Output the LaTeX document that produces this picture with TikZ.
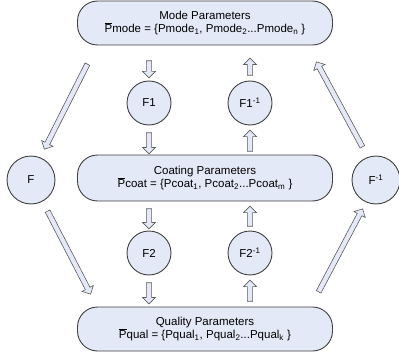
\documentclass[tikz,border=0pt]{standalone}
\usepackage{fontspec}
\setmainfont{Liberation Sans}
\usetikzlibrary{shapes.arrows,calc}

\definecolor{paleblue}{HTML}{E3E9F6}
\definecolor{edgegray}{HTML}{404040}

\tikzset{
  parambox/.style={draw=edgegray, fill=paleblue, line width=0.9pt, rounded corners=20pt,
    minimum width=255pt, minimum height=44pt, align=center,
    font=\fontsize{11.5}{13}\selectfont},
  funcnode/.style={draw=edgegray, fill=paleblue, line width=0.9pt, circle, inner sep=0pt,
    minimum size=44pt, font=\fontsize{11.5}{13}\selectfont},
  hollow/.style={single arrow, draw=edgegray!85, fill=paleblue, line width=0.6pt,
    inner xsep=0pt, inner ysep=2.3pt, single arrow head extend=3.8pt,
    single arrow head indent=0pt}
}

% hollow block arrow from #2 to #3
\newcommand{\hollowarrow}[3][]{%
  \path let \p1=($(#3)-(#2)$), \n1={veclen(\x1,\y1)}, \n2={atan2(\y1,\x1)} in
    node[hollow, minimum height=\n1, rotate=\n2, #1] at ($(#2)!0.5!(#3)$) {};}

\begin{document}
\begin{tikzpicture}[x=1pt,y=-1pt]
\useasboundingbox (0,0) rectangle (399,353);

% parameter boxes
\node[parambox] (mode) at (205,23) {Mode Parameters\\$\overline{\mbox{P}}$mode = \{Pmode\textsubscript{1}, Pmode\textsubscript{2}...Pmode\textsubscript{n} \}};
\node[parambox, minimum height=46pt] (coat) at (205,178) {Coating Parameters\\$\overline{\mbox{P}}$coat = \{Pcoat\textsubscript{1}, Pcoat\textsubscript{2}...Pcoat\textsubscript{m} \}};
\node[parambox] (qual) at (205,329) {Quality Parameters\\$\overline{\mbox{P}}$qual = \{Pqual\textsubscript{1}, Pqual\textsubscript{2}...Pqual\textsubscript{k} \}};

% functions
\node[funcnode] (f1) at (149,103) {F1};
\node[funcnode] (f1inv) at (250,103) {F1\textsuperscript{-1}};
\node[funcnode] (f2) at (149,253) {F2};
\node[funcnode] (f2inv) at (250,253) {F2\textsuperscript{-1}};
\node[funcnode, minimum size=48pt] (f) at (31,180) {F};
\node[funcnode, minimum size=48pt] (finv) at (376,180) {F\textsuperscript{-1}};

% arrow ends
\coordinate (a1) at ($(mode.south -| f1)+(0,14)$);
\coordinate (a2) at ($(f1.north)+(0,-4)$);
\coordinate (a3) at ($(f1.south)+(0,6)$);
\coordinate (a4) at ($(coat.north -| f1)+(0,-2)$);
\coordinate (b1) at ($(coat.north -| f1inv)+(0,-2)$);
\coordinate (b2) at ($(f1inv.south)+(0,6)$);
\coordinate (b3) at ($(f1inv.north)+(0,-4)$);
\coordinate (b4) at ($(mode.south -| f1inv)+(0,14)$);
\coordinate (c1) at ($(coat.south -| f2)+(0,6)$);
\coordinate (c2) at ($(f2.north)+(0,-3)$);
\coordinate (c3) at ($(f2.south)+(0,6)$);
\coordinate (c4) at ($(qual.north -| f2)+(0,-4)$);
\coordinate (d1) at ($(qual.north -| f2inv)+(0,-4)$);
\coordinate (d2) at ($(f2inv.south)+(0,6)$);
\coordinate (d3) at ($(f2inv.north)+(0,-3)$);
\coordinate (d4) at ($(coat.south -| f2inv)+(0,6)$);
\coordinate (l1) at (88,63);
\coordinate (l2) at (45,148);
\coordinate (l3) at (47,210);
\coordinate (l4) at (90,293);
\coordinate (r1) at (318,293);
\coordinate (r2) at (362,210);
\coordinate (r3) at (363,148);
\coordinate (r4) at (317,63);

\hollowarrow{a1}{a2}
\hollowarrow{a3}{a4}
\hollowarrow{b1}{b2}
\hollowarrow{b3}{b4}
\hollowarrow{c1}{c2}
\hollowarrow{c3}{c4}
\hollowarrow{d1}{d2}
\hollowarrow{d3}{d4}
\hollowarrow{l1}{l2}
\hollowarrow{l3}{l4}
\hollowarrow{r1}{r2}
\hollowarrow{r3}{r4}
\end{tikzpicture}
\end{document}
